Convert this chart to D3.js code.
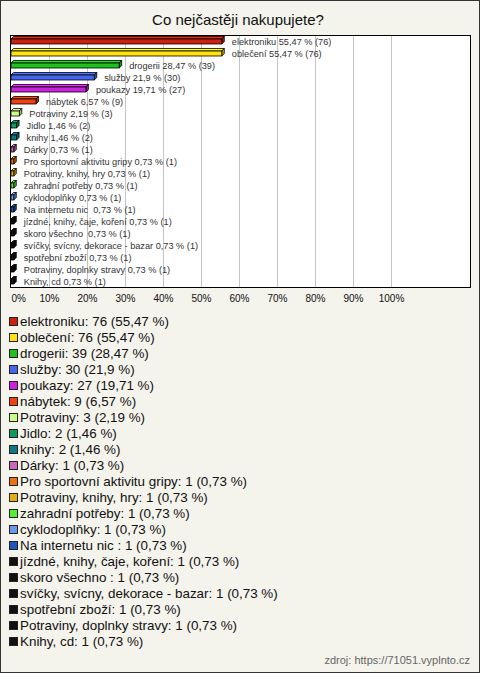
<!DOCTYPE html>
<html><head><meta charset="utf-8">
<script src="https://cdn.jsdelivr.net/npm/d3@7"></script>
<style>
html,body{margin:0;padding:0;background:#f4f3ec;}
svg{display:block;font-family:Arial,"Liberation Sans",sans-serif;}
text{white-space:pre;}
</style></head>
<body>
<svg id="chart" width="480" height="673"></svg>
<script>
const title = "Co nejčastěji nakupujete?";
const categories = ["elektroniku","oblečení","drogerii","služby","poukazy","nábytek","Potraviny","Jidlo","knihy","Dárky","Pro sportovní aktivitu gripy","Potraviny, knihy, hry","zahradní potřeby","cyklodoplňky","Na internetu nic ","jízdné, knihy, čaje, koření","skoro všechno ","svíčky, svícny, dekorace - bazar","spotřební zboží","Potraviny, doplnky stravy","Knihy, cd"];
const counts = [76,76,39,30,27,9,3,2,2,1,1,1,1,1,1,1,1,1,1,1,1];
const percents = [55.47,55.47,28.47,21.9,19.71,6.57,2.19,1.46,1.46,0.73,0.73,0.73,0.73,0.73,0.73,0.73,0.73,0.73,0.73,0.73,0.73];
const colors = ["#cc2010","#ffe010","#20c020","#4466ee","#cc22dd","#ee4010","#ccff88","#109960","#107788","#cc66bb","#ee7010","#e0b010","#55ee33","#6a98ee","#2255bb","#111111","#111111","#111111","#111111","#111111","#111111"];
const tickValues = [0,10,20,30,40,50,60,70,80,90,100];
const source = "zdroj: https://71051.vyplnto.cz";

const svg = d3.select("#chart");
const W = 480, H = 673;
const fmt = v => String(v).replace(".", ",");

svg.append("rect").attr("x",0.5).attr("y",0.5).attr("width",W-1).attr("height",H-1)
  .attr("fill","#f4f3ec").attr("stroke","#333");

svg.append("text").attr("x",238).attr("y",25).attr("text-anchor","middle")
  .attr("font-size",15).attr("fill","#111").text(title);

const plot = {x:10, y:35, w:460, h:252};
const x = d3.scaleLinear().domain([0,100]).range([11, 391]);
const y = d3.scaleBand().domain(d3.range(categories.length)).range([plot.y, plot.y+plot.h]);

svg.append("rect").attr("x",plot.x+0.5).attr("y",plot.y+0.5).attr("width",plot.w).attr("height",plot.h)
  .attr("fill","#fff").attr("stroke","#000");

// grid
svg.append("g").selectAll("line").data(tickValues.slice(1)).join("line")
  .attr("x1",d=>Math.round(x(d))+0.5).attr("x2",d=>Math.round(x(d))+0.5)
  .attr("y1",plot.y+1).attr("y2",plot.y+plot.h)
  .attr("stroke","#c4c4c4");

// axis labels via d3 axis
const axisG = svg.append("g").attr("transform",`translate(0,${plot.y+plot.h+1})`)
  .call(d3.axisBottom(x).tickValues(tickValues).tickFormat(d=>d+"%").tickSize(0).tickPadding(0));
axisG.select(".domain").remove();
axisG.selectAll("text").attr("font-size",10).attr("font-family","Arial,'Liberation Sans',sans-serif")
  .attr("fill","#111").attr("dy",0).attr("y",14);
axisG.selectAll(".tick").filter(d=>d===0).select("text").attr("text-anchor","start");

// bars (3D)
const dep = 2.5, bh = 5;
const bars = svg.append("g");
percents.forEach((p,i)=>{
  const c = y(i) + y.bandwidth()/2;
  const x0 = x(0), x1 = x(p);
  const y0 = c - 2, y1 = y0 + bh;
  const col = colors[i];
  const light = d3.color(col).brighter(0.5);
  const dark = d3.color(col).darker(0.8);
  const g = bars.append("g");
  g.append("path").attr("d",`M${x0},${y0}L${x0+dep},${y0-dep}L${x1+dep},${y0-dep}L${x1},${y0}Z`)
    .attr("fill",light).attr("stroke","#000").attr("stroke-width",0.8);
  g.append("path").attr("d",`M${x1},${y0}L${x1+dep},${y0-dep}L${x1+dep},${y1-dep}L${x1},${y1}Z`)
    .attr("fill",dark).attr("stroke","#000").attr("stroke-width",0.8);
  g.append("rect").attr("x",x0).attr("y",y0).attr("width",Math.max(0,x1-x0)).attr("height",bh)
    .attr("fill",col).attr("stroke","#000").attr("stroke-width",0.8);
  svg.append("text").attr("x",x1+10).attr("y",c+3.5).attr("font-size",9.2).attr("fill","#333")
    .text(`${categories[i]} ${fmt(p)} % (${counts[i]})`);
});

// legend
const lg = svg.append("g");
categories.forEach((cat,i)=>{
  const by = 326 + i*16;
  lg.append("rect").attr("x",9.5).attr("y",by-8.5).attr("width",8).attr("height",8)
    .attr("fill",colors[i]).attr("stroke","#222");
  lg.append("text").attr("x",20).attr("y",by).attr("font-size",13.4).attr("fill","#111")
    .text(`${cat}: ${counts[i]} (${fmt(percents[i])} %)`);
});

svg.append("text").attr("x",470).attr("y",664).attr("text-anchor","end")
  .attr("font-size",11).attr("fill","#666").text(source);
</script>
</body></html>
